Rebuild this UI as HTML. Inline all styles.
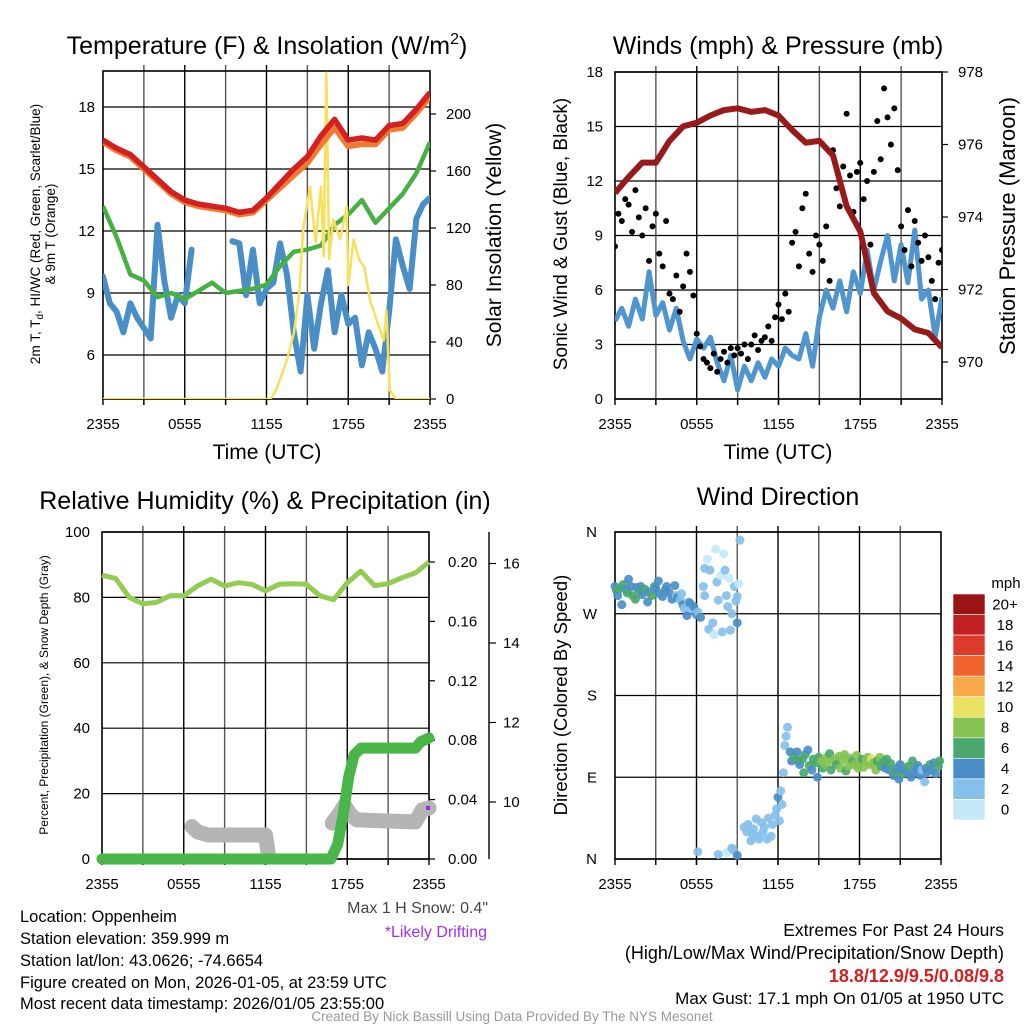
<!DOCTYPE html>
<html><head><meta charset="utf-8">
<style>
html,body{margin:0;padding:0;background:#fff;}
svg{display:block;font-family:"Liberation Sans",Arial,sans-serif;}
</style></head>
<body>
<svg id="root" width="1024" height="1024" viewBox="0 0 1024 1024" xmlns="http://www.w3.org/2000/svg"></svg>
<script>
// ---------------- DATA ----------------
const xTickLabels = ["2355","0555","1155","1755","2355"];
const xTickHours = [0,6,12,18,24];
// Panel 1 (hourly)
const tempRed = [16.4,16.0,15.7,15.1,14.5,13.9,13.5,13.3,13.2,13.1,12.9,13.0,13.6,14.3,15.0,15.6,16.6,17.4,16.4,16.5,16.4,17.1,17.2,17.9,18.7];
const tempOrange = [16.3,15.9,15.6,15.0,14.4,13.8,13.4,13.2,13.1,13.0,12.8,12.9,13.5,14.1,14.7,15.3,16.2,17.0,16.1,16.2,16.2,16.9,17.0,17.7,18.5];
const dewGreen = [13.2,11.7,9.9,9.6,8.8,9.0,8.7,9.1,9.5,9.0,9.1,9.2,9.4,10.3,11.0,11.1,11.3,12.3,12.8,13.5,12.4,13.1,13.8,14.8,16.3];
const windChill = [9.8,8.5,8.1,7.1,8.5,7.8,7.3,6.8,12.3,9.6,7.8,8.9,8.5,11.1,null,null,null,null,null,11.5,11.4,8.9,11.1,8.5,9.2,9.5,11.4,9.9,7.1,5.2,8.9,6.3,8.5,10.1,7.1,8.9,7.5,7.8,5.5,7.1,6.3,5.2,8.1,11.6,10.3,9.2,12.6,13.3,13.6];
const solarT = [0,12.3,12.7,13.5,14.0,14.4,14.7,15.2,15.6,16.0,16.2,16.4,16.6,16.9,17.4,17.9,18.0,18.4,18.8,19.2,19.6,20.1,20.6,20.8,21.05,21.5,24];
const solarV = [0,0,6,27,46,74,120,149,110,149,100,229,98,126,112,135,80,112,98,92,69,55,41,62,6,0,0];
const p1LeftTicks = [6,9,12,15,18];
const p1RightTicks = [0,40,80,120,160,200];
// Panel 2
const windSpd = [4.3,5.0,4.0,5.5,4.4,7.0,4.6,5.3,3.8,5.0,3.2,2.2,3.3,2.8,3.4,2.0,1.0,2.4,0.5,1.8,1.0,2.0,1.2,2.2,1.8,2.8,2.4,2.2,3.6,1.8,4.5,6.0,5.0,6.5,4.8,7.0,5.8,8.2,6.0,7.6,9.0,6.5,8.5,6.4,9.3,5.5,6.0,3.4,5.6];
const gust = [8.4,10.2,9.8,11.0, 10.7,9.2,11.5,10.0, 9.0,10.5,7.6,9.5, 10.2,8.0,7.3,9.8, 5.8,5.5,6.8,4.8, 6.2,8.0,7.0,5.7, 3.6,2.9,2.2,2.0, 1.7,2.5,1.5,2.2, 2.6,2.0,2.8,2.4, 2.8,2.5,3.0,2.2, 3.0,3.5,2.7,3.2, 3.4,4.0,3.2,4.5, 5.2,4.4,5.8,4.8, 8.6,9.2,7.3,10.5, 11.3,8.0,7.0,9.0, 8.5,7.6,9.5,6.5, 13.7,11.6,10.6,12.8, 15.7,12.3,10.3,12.5, 13.0,11.0,12.0,8.5, 12.5,15.3,13.2,17.1, 15.5,14.0,16.0,12.6, 9.5,8.2,10.4,7.3, 9.8,8.6,7.6,9.0, 7.8,6.5,5.5,7.5,8.2];
const pressure = [974.66,975.1,975.5,975.5,976.1,976.5,976.6,976.8,976.95,977.0,976.9,976.95,976.8,976.4,976.05,976.1,975.7,974.3,973.6,971.9,971.4,971.2,970.9,970.8,970.4];
const p2LeftTicks = [0,3,6,9,12,15,18];
const p2RightTicks = [970,972,974,976,978];
// Panel 3
const rh = [86.8,85.8,80,78,78.5,80.5,80.5,83.5,85.6,83.5,84.5,84.0,82.0,84.0,84.2,84.0,80.5,79.3,84.5,88.0,83.6,84.2,86.0,87.5,90.8];
const precipT = [0,16.8,17.3,17.7,18.1,18.5,19.0,23.0,23.4,24];
const precipV = [0,0,0.01,0.03,0.055,0.07,0.0747,0.0747,0.079,0.0815];
const snowT = [6.6,7.0,7.8,12.0,12.2,null,16.9,17.4,17.8,18.2,18.7,23.0,23.5,24];
const snowV = [9.38,9.25,9.17,9.17,8.7,null,9.47,9.7,9.92,9.7,9.55,9.5,9.8,9.85];
const p3LeftTicks = [0,20,40,60,80,100];
const p3RightTicks = ["0.00","0.04","0.08","0.12","0.16","0.20"];
const p3OuterTicks = [10,12,14,16];
// Panel 4
const wdT = [0.0,0.1,0.2,0.4,0.5,0.6,0.8,0.9,1.0,1.2,1.3,1.5,1.6,1.8,1.9,2.0,2.2,2.4,2.5,2.7,2.9,3.0,3.2,3.3,3.5,3.7,3.8,4.0,4.2,4.4,
 4.5,4.6,4.8,4.9,5.0,5.1,5.3,5.4,5.5,5.7,5.8,6.0,6.1,6.3,6.5,6.6,
 6.6,6.8,6.9,7.0,7.2,7.3,7.4,7.5,7.6,7.8,7.9,8.0,8.1,8.2,8.3,8.4,8.5,8.6,8.8,8.9,9.0,9.1,9.2,9.0,
 6.1,7.6,8.2,8.7,8.6,9.0,
 9.5,9.7,9.8,10.0,10.1,10.2,10.4,10.5,10.6,10.8,10.9,11.0,11.2,11.3,11.5,11.6,11.8,11.9,12.0,12.1,12.2,12.3,
 12.4,12.5,12.6,12.7,12.9,13.0,
 13.2,13.4,13.5,13.6,13.8,13.9,14.0,14.2,14.3,14.5,14.6,14.8,14.9,15.0,15.2,15.3,15.5,15.6,15.8,15.9,16.0,16.2,16.3,16.5,16.6,16.8,16.9,17.0,17.2,17.3,17.5,17.6,17.8,17.9,18.0,18.2,18.3,18.5,18.6,18.8,18.9,19.0,19.2,19.3,19.5,19.6,19.8,19.9,20.0,20.2,20.3,20.5,20.6,20.8,20.9,21.0,21.2,21.3,21.5,21.6,21.8,21.9,22.0,22.2,22.3,22.5,22.6,22.8,22.9,23.0,23.2,23.3,23.5,23.6,23.8,23.9];
const wdDir = [300,296,290,298,280,302,297,293,308,300,290,286,299,295,300,291,297,283,294,290,300,298,306,292,289,296,300,293,286,301,
 290,288,285,292,280,276,268,283,282,275,278,269,272,266,300,290,
 320,330,253,318,260,247,341,305,285,312,250,336,318,290,278,309,252,270,300,284,289,303,351,260,
 8,5,7,10,12,4,
 35,30,38,20,28,33,44,25,22,40,30,35,22,45,25,38,48,55,68,42,75,60,
 95,125,135,145,118,108,
 112,118,108,104,110,95,115,120,103,98,110,106,90,112,108,100,104,112,116,98,108,110,104,113,100,109,115,97,102,111,108,104,114,100,105,110,101,108,112,104,110,106,98,108,112,102,107,100,110,98,105,92,96,100,88,104,94,98,96,102,90,108,95,100,103,92,98,85,100,96,104,98,106,94,102,108];
const wdSpd = [4,6,4,5,4,6,4,5,4,4,6,5,4,6,4,4,6,4,4,5,6,4,4,4,4,3,4,3,4,3,
 2,3,2,2,3,2,4,2,3,2,4,3,2,4,2,2,
 1,0,1,1,1,0,0,1,1,0,1,0,1,1,1,0,1,2,1,1,2,0,2,3,
 2,2,0,1,2,3,
 1,2,2,2,2,2,2,2,2,2,2,2,2,2,2,2,2,2,3,2,2,2,
 2,2,2,2,3,4,
 5,4,6,4,6,6,5,4,6,4,6,5,4,6,7,6,8,7,6,5,7,8,6,8,7,7,8,6,7,8,6,7,8,7,8,6,7,8,7,8,10,7,8,6,7,5,6,4,6,4,5,4,6,4,3,4,5,4,4,6,4,5,4,3,4,3,2,2,4,4,5,3,4,4,5,5];
const dirLabels = ["N","E","S","W","N"];
const cbLabels = ["20+","18","16","14","12","10","8","6","4","2","0"];
const cbColors = ["#9a1414","#c0201f","#dd3a2c","#f0632c","#f7a849","#e8e262","#86c350","#4aa86c","#4a8ec8","#86c0ea","#c4e8f8"];

// ---------------- HELPERS ----------------
const NS = "http://www.w3.org/2000/svg";
const root = document.getElementById("root");
const TICK = 15, TITLE = 25, AXT = 21;
function mk(tag, attrs, parent){
  const e = document.createElementNS(NS, tag);
  for (const k in attrs) e.setAttribute(k, attrs[k]);
  (parent||root).appendChild(e);
  return e;
}
function txt(s, x, y, size, anchor, parent, extra){
  const t = mk("text", Object.assign({x:x, y:y, "font-size":size, "text-anchor":anchor||"middle", fill:"#000"}, extra||{}), parent);
  t.textContent = s;
  return t;
}
function pathFrom(xs, ys){
  let d = "", pen = false;
  for (let i=0;i<xs.length;i++){
    if (xs[i]===null || ys[i]===null){ pen=false; continue; }
    d += (pen?"L":"M") + xs[i].toFixed(1) + " " + ys[i].toFixed(1) + " ";
    pen = true;
  }
  return d;
}
function hourly(arr, xf, yf){
  const xs=[], ys=[];
  const step = 24/(arr.length-1);
  arr.forEach((v,i)=>{ xs.push(xf(i*step)); ys.push(v===null?null:yf(v)); });
  return pathFrom(xs, ys);
}
function frame(g, x0, y0, x1, y1){
  for (let h=3; h<24; h+=3){
    const x = x0 + h/24*(x1-x0);
    const l = mk("line",{x1:x,y1:y0-6,x2:x,y2:y1+6,stroke:(h%6===0?"#000":"#555"),"stroke-width":1.4}, g);
    
    
  }
  const r = mk("rect",{x:x0,y:y0,width:x1-x0,height:y1-y0,fill:"none",stroke:"#000","stroke-width":1.6}, g);
  
  
  for (let h=0; h<=24; h+=3){
    const x = x0 + h/24*(x1-x0);
    const l = mk("line",{x1:x,y1:y1,x2:x,y2:y1+6,stroke:"#000","stroke-width":1.4}, g);
    
    
  }
  xTickHours.forEach((h,i)=>{
    const t = txt(xTickLabels[i], x0 + h/24*(x1-x0), y1+30, TICK, "middle", g);
    
    
  });
}
function hGrid(g, x0, x1, y){
  const l = mk("line",{x1:x0,y1:y,x2:x1,y2:y,stroke:"#000","stroke-width":1.2}, g);
  
  
}
function rotText(s, x, y, size, parent){
  return txt(s, x, y, size, "middle", parent, {transform:"rotate(-90 "+x+" "+y+")"});
}

// ---------------- PANEL 1 ----------------
(function(){
  const g = mk("g",{});
  
  
  const X0=103, X1=430, Y0=71, Y1=399;
  const xf = t => X0 + t/24*(X1-X0);
  const yT = v => 355 - (v-6)*62/3;
  const yS = v => 399 - v*57/40;
  frame(g, X0, Y0, X1, Y1);
  p1LeftTicks.forEach(v=>{
    hGrid(g, X0, X1, yT(v));
    const t = txt(String(v), 95, yT(v)+5, TICK, "end", g);
    
    
  });
  p1RightTicks.forEach(v=>{
    const l = mk("line",{x1:X1,y1:yS(v),x2:X1+6,y2:yS(v),stroke:"#000","stroke-width":1.2}, g);
    
    
    const t = txt(String(v), 446, yS(v)+5, TICK, "start", g);
    
    
  });
  const clip = mk("clipPath",{id:"c1"}, g);
  mk("rect",{x:X0,y:Y0,width:X1-X0,height:Y1-Y0}, clip);
  const sg = mk("g",{"clip-path":"url(#c1)"}, g);
  let p;
  p = mk("path",{d:hourly(windChill,xf,yT),fill:"none",stroke:"#4a8ec8","stroke-width":6,"stroke-linejoin":"round","stroke-linecap":"round"}, sg);
  
  
  p = mk("path",{d:hourly(dewGreen,xf,yT),fill:"none",stroke:"#45b142","stroke-width":4.5,"stroke-linejoin":"round"}, sg);
  
  
  p = mk("path",{d:pathFrom(solarT.map(xf), solarV.map(yS)),fill:"none",stroke:"#f8e05a","stroke-width":2.5,"stroke-linejoin":"round"}, sg);
  
  
  p = mk("path",{d:hourly(tempOrange,xf,yT),fill:"none",stroke:"#f07a30","stroke-width":6,"stroke-linejoin":"round"}, sg);
  
  
  p = mk("path",{d:hourly(tempRed,xf,yT),fill:"none",stroke:"#d42020","stroke-width":5.5,"stroke-linejoin":"round"}, sg);
  
  
  const t1 = mk("text",{x:267,y:54,"font-size":TITLE,"text-anchor":"middle"}, g);
  t1.innerHTML = 'Temperature (F) &amp; Insolation (W/m<tspan font-size="16" dy="-10">2</tspan><tspan dy="10">)</tspan>';
  
  
  let a = txt("Time (UTC)", 267, 459, AXT, "middle", g);
  
  
  a = mk("text",{x:40,y:234,"font-size":13.5,"text-anchor":"middle",transform:"rotate(-90 40 234)"}, g);
  a.innerHTML = '2m T, T<tspan font-size="10" dy="3">d</tspan><tspan dy="-3">, HI/WC (Red, Green, Scarlet/Blue)</tspan>';
  
  
  a = rotText("& 9m T (Orange)", 55, 234, 13.5, g);
  
  
  a = rotText("Solar Insolation (Yellow)", 501, 235, 21, g);
  
  
})();

// ---------------- PANEL 2 ----------------
(function(){
  const g = mk("g",{});
  
  
  const X0=615, X1=942, Y0=72, Y1=399;
  const xf = t => X0 + t/24*(X1-X0);
  const yW = v => 399 - v*327/18;
  const yP = p => 362 - (p-970)*36.25;
  frame(g, X0, Y0, X1, Y1);
  p2LeftTicks.forEach(v=>{
    hGrid(g, X0, X1, yW(v));
    const t = txt(String(v), 603, yW(v)+5, TICK, "end", g);
    
    
  });
  p2RightTicks.forEach(v=>{
    const l = mk("line",{x1:X1,y1:yP(v),x2:X1+6,y2:yP(v),stroke:"#000","stroke-width":1.2}, g);
    
    
    const t = txt(String(v), 958, yP(v)+5, TICK, "start", g);
    
    
  });
  const clip = mk("clipPath",{id:"c2"}, g);
  mk("rect",{x:X0,y:Y0,width:X1-X0,height:Y1-Y0}, clip);
  const sg = mk("g",{"clip-path":"url(#c2)"}, g);
  let p = mk("path",{d:hourly(windSpd,xf,yW),fill:"none",stroke:"#4f95d0","stroke-width":5,"stroke-linejoin":"round"}, sg);
  
  
  const gStep = 24/(gust.length-1);
  gust.forEach((v,i)=>{
    const c = mk("circle",{cx:xf(i*gStep),cy:yW(v),r:3,fill:"#000"}, sg);
    
    
  });
  p = mk("path",{d:hourly(pressure,xf,yP),fill:"none",stroke:"#981a1a","stroke-width":6,"stroke-linejoin":"round"}, sg);
  
  
  let a = txt("Winds (mph) & Pressure (mb)", 778, 54, TITLE, "middle", g);
  
  
  a = txt("Time (UTC)", 778, 459, AXT, "middle", g);
  
  
  a = rotText("Sonic Wind & Gust (Blue, Black)", 567, 234, 19, g);
  
  
  a = rotText("Station Pressure (Maroon)", 1015, 226, 22, g);
  
  
})();

// ---------------- PANEL 3 ----------------
(function(){
  const g = mk("g",{});
  
  
  const X0=102, X1=429, Y0=532, Y1=859;
  const xf = t => X0 + t/24*(X1-X0);
  const yR = v => 859 - v*3.27;
  const yPr = v => 859 - v*1485;
  const ySn = v => 802 - (v-10)*39.75;
  frame(g, X0, Y0, X1, Y1);
  p3LeftTicks.forEach(v=>{
    hGrid(g, X0, X1, yR(v));
    const t = txt(String(v), 90, yR(v)+5, TICK, "end", g);
    
    
  });
  p3RightTicks.forEach(s=>{
    const v = parseFloat(s);
    const l = mk("line",{x1:X1,y1:yPr(v),x2:X1+6,y2:yPr(v),stroke:"#000","stroke-width":1.2}, g);
    
    
    const t = txt(s, 448, yPr(v)+5, TICK, "start", g);
    
    
  });
  const ax = mk("line",{x1:489,y1:532,x2:489,y2:859,stroke:"#000","stroke-width":1.4}, g);
  
  
  p3OuterTicks.forEach(v=>{
    const l = mk("line",{x1:489,y1:ySn(v),x2:496,y2:ySn(v),stroke:"#000","stroke-width":1.2}, g);
    
    
    const t = txt(String(v), 503, ySn(v)+5, TICK, "start", g);
    
    
  });
  const clip = mk("clipPath",{id:"c3"}, g);
  mk("rect",{x:X0-8,y:Y0,width:X1-X0+16,height:Y1-Y0+8}, clip);
  const sg = mk("g",{"clip-path":"url(#c3)"}, g);
  let p = mk("path",{d:pathFrom(snowT.map(t=>t===null?null:xf(t)), snowV.map(v=>v===null?null:ySn(v))),fill:"none",stroke:"#b4b4b4","stroke-width":15,"stroke-linecap":"round","stroke-linejoin":"round"}, sg);
  
  
  p = mk("path",{d:pathFrom(precipT.map(xf), precipV.map(yPr)),fill:"none",stroke:"#4ab548","stroke-width":11,"stroke-linecap":"round","stroke-linejoin":"round"}, sg);
  
  
  p = mk("path",{d:hourly(rh,xf,yR),fill:"none",stroke:"#92cc52","stroke-width":5,"stroke-linejoin":"round"}, sg);
  
  
  const m = mk("rect",{x:426,y:ySn(snowV[snowV.length-1])-2,width:4,height:4,fill:"#a020f0"}, g);
  
  
  let a = txt("Relative Humidity (%) & Precipitation (in)", 265, 509, TITLE, "middle", g);
  
  
  a = rotText("Percent, Precipitation (Green), & Snow Depth (Gray)", 48, 695, 12, g);
  
  
  a = txt('Max 1 H Snow: 0.4"', 488, 913, 16, "end", g, {fill:"#444"});
  
  
  a = txt("*Likely Drifting", 487, 937, 16, "end", g, {fill:"#a030f0"});
  
  
})();

// ---------------- PANEL 4 ----------------
(function(){
  const g = mk("g",{});
  
  
  const X0=615, X1=941, Y0=532, Y1=859;
  const xf = t => X0 + t/24*(X1-X0);
  const yD = d => 859 - d*327/360;
  frame(g, X0, Y0, X1, Y1);
  dirLabels.forEach((s,i)=>{
    const y = yD(i*90);
    hGrid(g, X0, X1, y);
    const t = txt(s, 597, y+5, TICK, "end", g);
    
    
  });
  const colorFor = s => cbColors[10 - Math.max(0, Math.min(10, Math.round(s/2)))];
  const n = Math.min(wdT.length, wdDir.length, wdSpd.length);
  for (let i=0;i<n;i++){
    const c = mk("circle",{cx:xf(wdT[i]),cy:yD(wdDir[i]),r:4.5,fill:colorFor(wdSpd[i]),"fill-opacity":0.92}, g);
    
    
  }
  const bh = 226/cbColors.length;
  cbColors.forEach((col,i)=>{
    const r = mk("rect",{x:953,y:594+i*bh,width:32,height:bh,fill:col,stroke:"#fff","stroke-width":0.6}, g);
    
    
    const t = txt(cbLabels[i], 1005, 594+i*bh+bh/2+5, TICK, "middle", g);
    
    
  });
  let a = txt("mph", 1006, 588, TICK, "middle", g);
  
  
  a = txt("Wind Direction", 778, 505, TITLE, "middle", g);
  
  
  a = rotText("Direction (Colored By Speed)", 567, 695, 18.5, g);
  
  
})();

// ---------------- FOOTER TEXT ----------------
(function(){
  const g = mk("g",{});
  
  
  const lines = ["Location: Oppenheim","Station elevation: 359.999 m","Station lat/lon: 43.0626; -74.6654","Figure created on Mon, 2026-01-05, at 23:59 UTC","Most recent data timestamp: 2026/01/05 23:55:00"];
  const ys = [922,944,966,988,1009];
  lines.forEach((s,i)=>{
    const t = txt(s, 20, ys[i], 16.5, "start", g);
    
    
  });
  let t = txt("Extremes For Past 24 Hours", 1004, 936, 17.5, "end", g);
  
  
  t = txt("(High/Low/Max Wind/Precipitation/Snow Depth)", 1004, 959, 18, "end", g);
  
  
  t = txt("18.8/12.9/9.5/0.08/9.8", 1004, 982, 18, "end", g, {fill:"#d42020","font-weight":"bold"});
  
  
  t = txt("Max Gust: 17.1 mph On 01/05 at 1950 UTC", 1004, 1004, 17, "end", g);
  
  
  t = txt("Created By Nick Bassill Using Data Provided By The NYS Mesonet", 512, 1021, 13.5, "middle", g, {fill:"#999"});
  
  
})();
</script>
</body></html>
